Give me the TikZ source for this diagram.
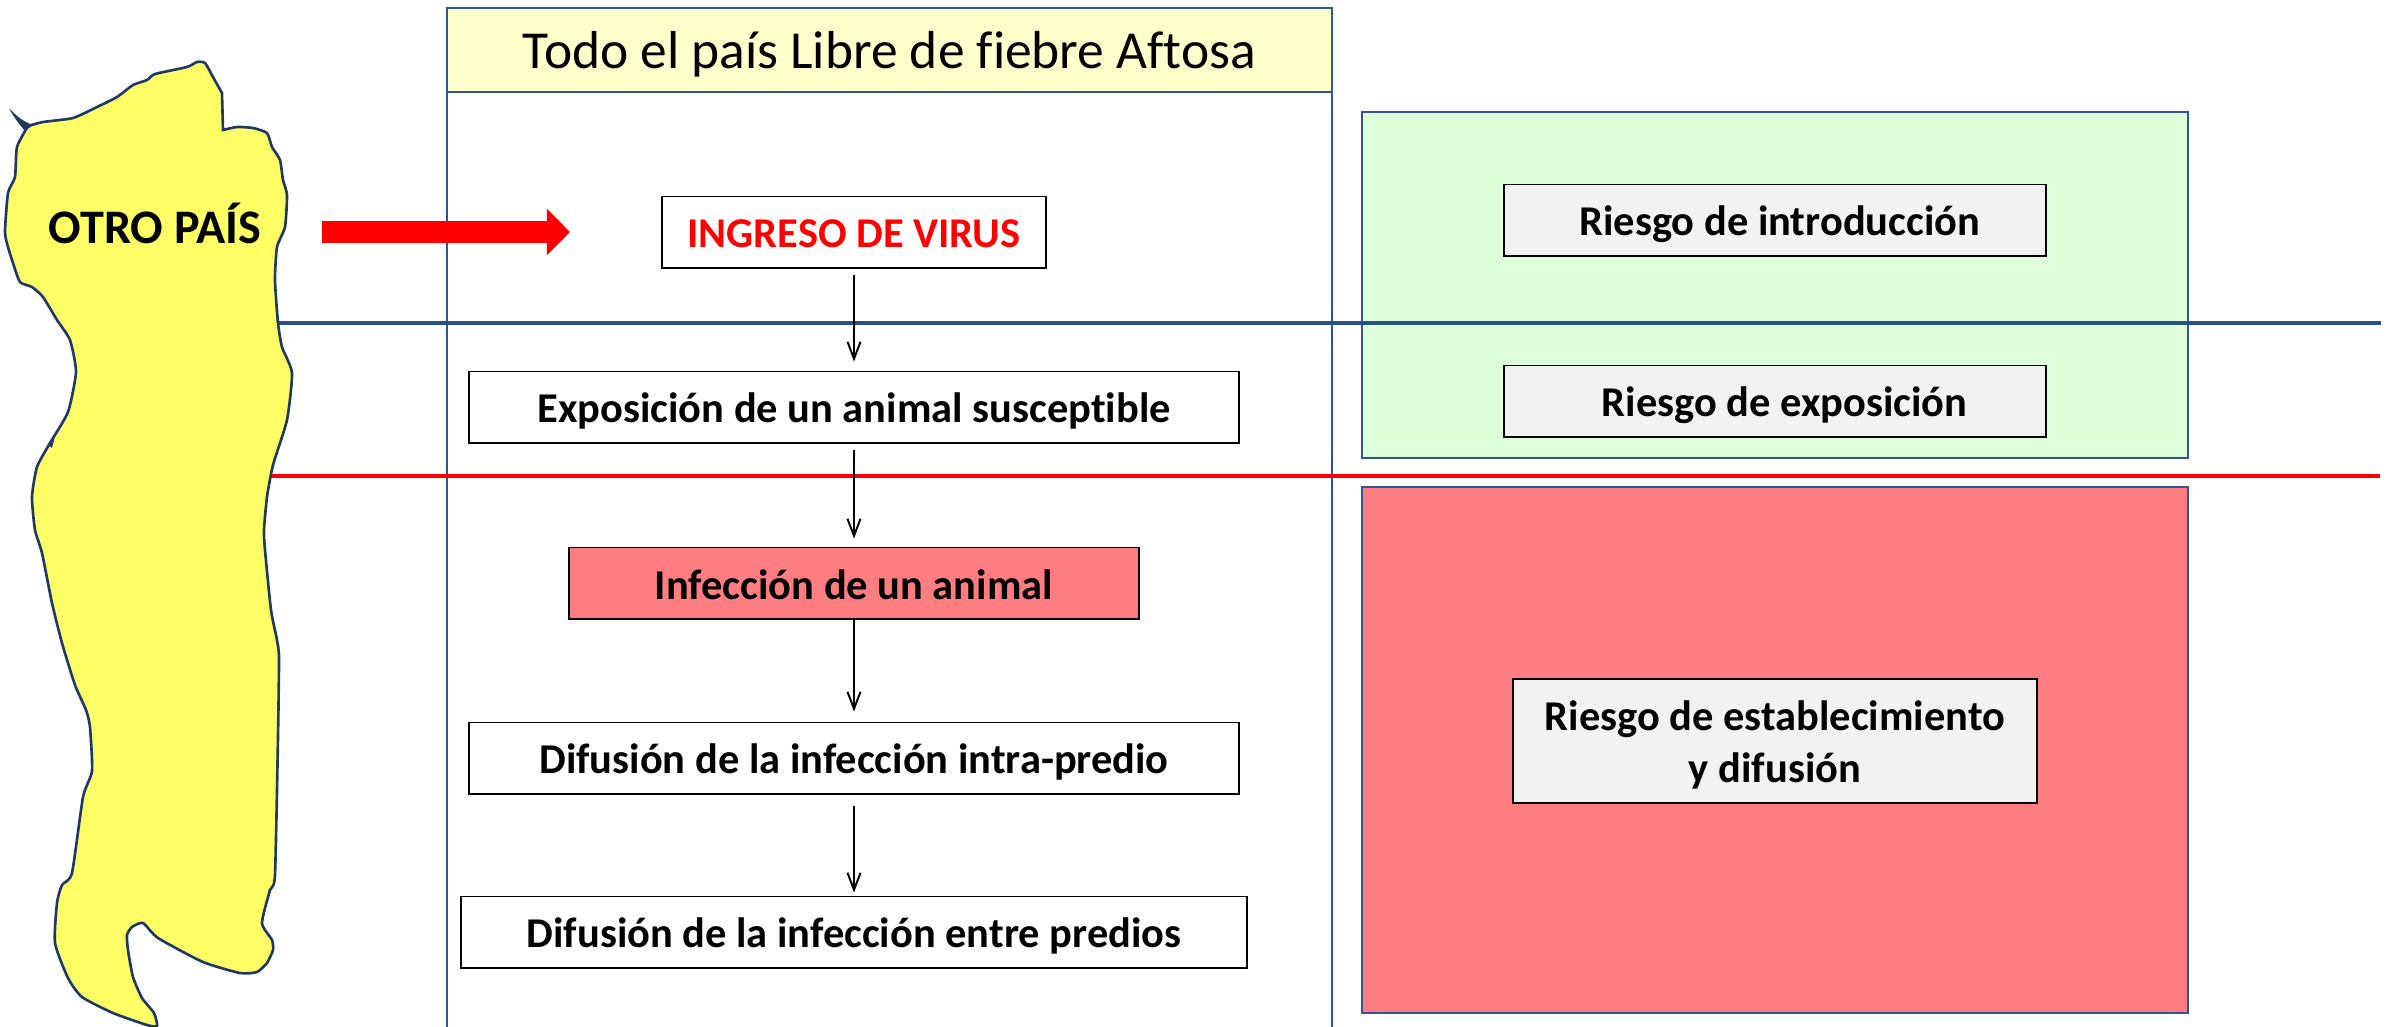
\documentclass[tikz,border=0pt]{standalone}
\usepackage{fontspec}
\usepackage{tikz}
\setmainfont[Ligatures=CommonOff]{Carlito}
\usetikzlibrary{arrows.meta}
\definecolor{panelblue}{HTML}{2F5597}
\definecolor{lineblue}{HTML}{27527F}
\definecolor{titleyellow}{HTML}{FFFFCC}
\definecolor{mapyellow}{HTML}{FFFF66}
\definecolor{mapline}{HTML}{1F3864}
\definecolor{zonegreen}{HTML}{DDFFD9}
\definecolor{zonered}{HTML}{FF7C80}
\definecolor{riskgray}{HTML}{F2F2F2}

\begin{document}
\begin{tikzpicture}[x=0.01cm, y=-0.01cm,
    flowbox/.style={draw=black, line width=0.55pt, fill=white, minimum height=0.71cm, inner sep=0pt, text height=10pt, text depth=1.4pt, font=\fontsize{12.07}{14.6}\selectfont\bfseries},
    riskbox/.style={flowbox, fill=riskgray, align=center},
    zone/.style={draw=panelblue, line width=0.6pt, inner sep=0pt},
    flow/.style={-{Straight Barb[length=0.17cm, width=0.13cm]}, line width=0.55pt}
    ]
    \useasboundingbox (0,0) rectangle (2399,1026);

    % Draw the central panel
    \draw[panelblue, line width=0.6pt, fill=white] (447,92) rectangle (1332,1040);
    \node[zone, fill=titleyellow, minimum width=8.85cm, minimum height=0.84cm, text height=12pt, text depth=1.6pt, font=\fontsize{15.2}{18}\selectfont] (title) at (889.5,50) {Todo el país Libre de fiebre Aftosa};

    % Draw the risk zones
    \node[zone, fill=zonegreen, minimum width=8.25cm, minimum height=3.46cm] (greenzone) at (1775,285) {};
    \node[zone, fill=zonered, minimum width=8.25cm, minimum height=5.25cm] (redzone) at (1775,750) {};

    % Draw the two limits
    \coordinate (bluestart) at (270,323);
    \coordinate (blueend) at (2381,323);
    \coordinate (redstart) at (265,476);
    \coordinate (redend) at (2380,476);
    \draw[lineblue, line width=1.1pt] (bluestart) -- (blueend);
    \draw[red, line width=1pt] (redstart) -- (redend);

    % Draw the other country
    \draw[mapline, line width=0.75pt, fill=mapyellow] plot[smooth, tension=0.35] coordinates {
        (28,126) (43,122) (73,118) (97,107) (117,97) (133,85) (147,80) (155,74) (187,67) (197,62) (205,63) (213,77) (222,93)
    } -- (223,130) -- plot[smooth, tension=0.35] coordinates {
        (223,130) (237,127) (253,128) (267,133) (272,147) (280,160) (283,180) (287,195) (285,227) (277,247) (275,280) (278,323) (282,347) (292,373) (287,420) (273,465) (267,497) (264,530) (265,550) (271,610) (277,640) (279,658) (278,737) (275,875) (270,890) (262,923) (272,940) (273,950) (267,963) (257,972) (240,973) (203,962) (158,938) (143,923) (132,927) (127,935) (128,950) (133,977) (142,998) (154,1013) (157,1026) (147,1025) (113,1013) (82,997) (68,978) (55,943) (57,903) (62,885) (72,873) (83,797) (92,771) (90,727) (86,710) (75,685) (62,643) (52,603) (42,553) (35,530) (32,497) (37,467) (50,443) (68,412) (76,372) (70,340) (57,320) (43,297) (32,287) (20,282) (13,263) (8,247) (5,232) (8,193) (15,177) (17,147) (28,126)
    };
    \fill[mapline] (9,108) .. controls (16,116) and (24,122) .. (33,125) -- (25,131) .. controls (19,124) and (13,116) .. (9,108);
    \fill[mapline] (47,448) -- (56,432) -- (52,448) -- (50,446) -- cycle;
    \node[font=\fontsize{13.7}{16}\selectfont\bfseries] (country) at (155,223) {OTRO PAÍS};

    % Draw the red entry arrow
    \coordinate (entrystart) at (322,232);
    \coordinate (entryend) at (570,232);
    \draw[red, line width=0.22cm, -{Triangle[length=0.23cm, width=0.45cm]}] (entrystart) -- (entryend);

    % Draw the chain of events
    \node[flowbox, minimum width=3.84cm, text=red] (ingreso) at (854,232) {INGRESO DE VIRUS};
    \node[flowbox, minimum width=7.7cm] (exposicion) at (854,407) {Exposición de un animal susceptible};
    \node[flowbox, minimum width=5.7cm, fill=zonered, text depth=0.5pt] (infeccion) at (854,583) {Infección de un animal};
    \node[flowbox, minimum width=7.7cm] (intra) at (854,758) {Difusión de la infección intra-predio};
    \node[flowbox, minimum width=7.85cm] (entre) at (854,932) {Difusión de la infección entre predios};
    \draw[flow, shorten <=0.06cm, shorten >=0.09cm] (ingreso) -- (exposicion);
    \draw[flow, shorten <=0.06cm, shorten >=0.08cm] (exposicion) -- (infeccion);
    \draw[flow, shorten >=0.1cm] (infeccion) -- (intra);
    \draw[flow, shorten <=0.11cm, shorten >=0.03cm] (intra) -- (entre);

    % Draw the risk labels
    \node[riskbox, minimum width=5.42cm] (riskintro) at (1775,220) {~Riesgo de introducción};
    \node[riskbox, minimum width=5.42cm] (riskexpo) at (1775,401) {~~Riesgo de exposición};
    \node[riskbox, minimum width=5.23cm, minimum height=1.24cm, text height={}, text depth={}] (riskest) at (1775,741) {\rule{0pt}{10.65pt}Riesgo de establecimiento\\y difusión};
\end{tikzpicture}
\end{document}
